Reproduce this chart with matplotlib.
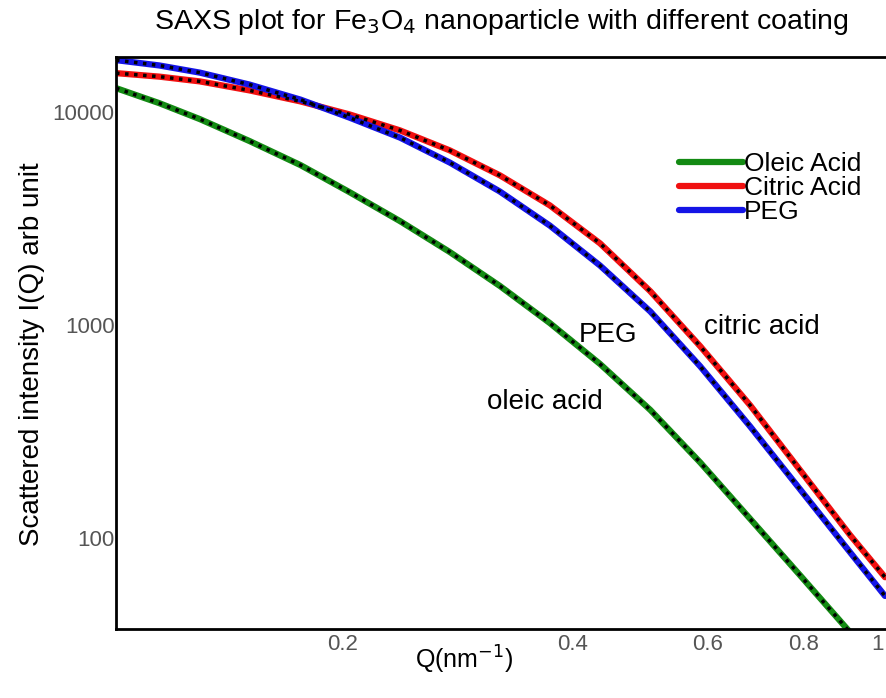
import matplotlib
matplotlib.use('Agg')
import matplotlib.pyplot as plt

plt.rcParams['font.family'] = ['Liberation Sans', 'DejaVu Sans']

# values (Q in nm^-1, intensity in arb. units)
q = [0.101, 0.115, 0.130, 0.151, 0.176, 0.204, 0.2375, 0.276, 0.321,
     0.373, 0.434, 0.505, 0.587, 0.682, 0.793, 0.922, 1.024]
i_oleic = [12960, 11020, 9270, 7310, 5640, 4210, 3078, 2202, 1525,
           1022, 656, 399, 226, 123, 66.7, 36.0, 23.5]
i_citric = [15243, 14678, 13937, 12643, 11226, 9754, 8207, 6610, 5045,
            3648, 2418, 1440, 794, 420, 208, 103, 65.4]
i_peg = [17545, 16565, 15325, 13463, 11448, 9423, 7592, 5794, 4235,
         2932, 1902, 1157, 639, 334, 169, 85.5, 53.4]

labels = ['Oleic Acid', 'Citric Acid', 'PEG']
colors = ['#138a13', '#f01010', '#1414e6']

fig = plt.figure(figsize=(8.86, 6.98), dpi=100)
ax = fig.add_axes([0.131, 0.099, 0.869, 0.819])

series = [i_oleic, i_citric, i_peg]
for i, lab, c in zip(series, labels, colors):
    ax.plot(q, i, color=c, lw=4.5, label=lab, solid_capstyle='round')
# measured points (black dots) on top of the fits
for i in series:
    ax.plot(q, i, color='black', lw=2.5, ls=(0, (1, 1.6)))

ax.set_xscale('log')
ax.set_yscale('log')
ax.set_xlim(0.101, 1.027)
ax.set_ylim(37.4, 18100)

ax.set_xticks([0.2, 0.4, 0.6, 0.8, 1])
ax.set_xticklabels(['0.2', '0.4', '0.6', '0.8', '1'])
ax.set_yticks([100, 1000, 10000])
ax.set_yticklabels(['100', '1000', '10000'])
ax.minorticks_off()
ax.tick_params(axis='both', length=0, labelsize=16, labelcolor='#555555')
ax.tick_params(axis='y', pad=1)
ax.tick_params(axis='x', pad=4)

for s in ['top', 'left', 'bottom']:
    ax.spines[s].set_linewidth(2)
ax.spines['right'].set_visible(False)

ax.text(0.445, 897, 'PEG', fontsize=20, ha='center', va='center')
ax.text(0.706, 976, 'citric acid', fontsize=20, ha='center', va='center')
ax.text(0.367, 434, 'oleic acid', fontsize=20, ha='center', va='center')

ax.legend(loc='upper left', bbox_to_anchor=(0.718, 0.852), frameon=False,
          fontsize=19, handlelength=2.4, handletextpad=0.05, labelspacing=0.0,
          borderaxespad=0)

fig.text(0.5655, 0.968, 'SAXS plot for Fe$_3$O$_4$ nanoparticle with different coating',
         fontsize=20.5, ha='center', va='center')
fig.text(0.036, 0.493, 'Scattered intensity I(Q) arb unit', fontsize=20,
         rotation=90, ha='center', va='center')
fig.text(0.524, 0.054, 'Q(nm$^{-1}$)', fontsize=18, ha='center', va='center')

fig.savefig('out.png', dpi=100)
